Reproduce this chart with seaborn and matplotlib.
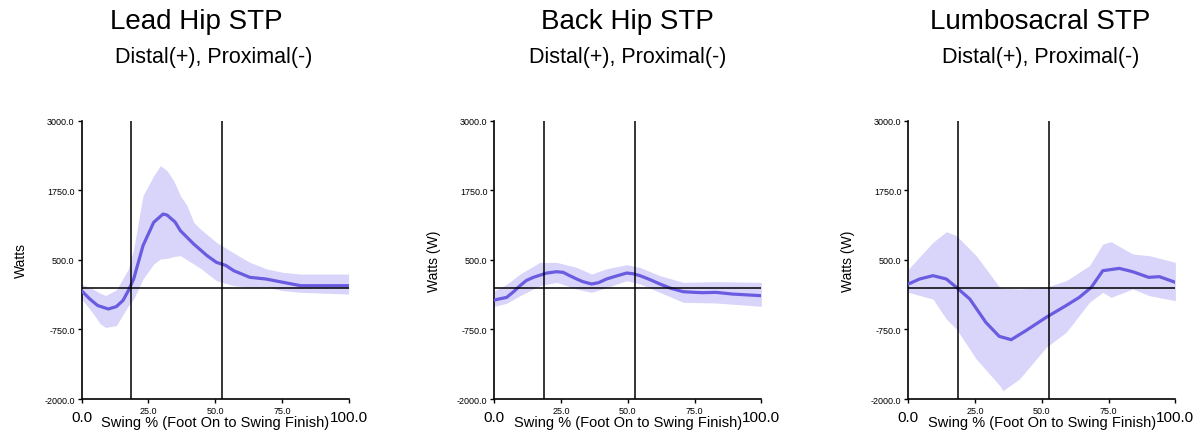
import matplotlib
matplotlib.use("Agg")
import matplotlib.pyplot as plt
import seaborn as sns
import pandas as pd
import numpy as np

# ---------------- data ----------------
titles = ["Lead Hip STP", "Back Hip STP", "Lumbosacral STP"]
subtitle = "Distal(+), Proximal(-)"
ylabels = ["Watts", "Watts (W)", "Watts (W)"]
xlabel = "Swing % (Foot On to Swing Finish)"
yticks = [-2000.0, -750.0, 500.0, 1750.0, 3000.0]
xticks_small = [25.0, 50.0, 75.0]
xticks_end = [0.0, 100.0]
event_lines = [18.5, 52.7]

# Lead hip
lead_mean_x = [0, 3, 6, 10, 13, 15.5, 17.5, 19.5, 23, 27, 30.5, 32, 35, 37, 42, 47, 50.5, 54, 57, 63, 69, 75.5, 82, 90, 100]
lead_mean_y = [-54, -200, -320, -383, -340, -230, -54, 156, 755, 1174, 1323, 1305, 1180, 1024, 784, 575, 455, 400, 305, 186, 156, 96, 36, 36, 36]
lead_band_x = [0, 4, 7, 9, 13, 17.5, 19.5, 23, 27, 29.5, 32, 34.5, 37, 39.5, 42, 44.5, 50.5, 57, 63, 69.5, 75.5, 82, 100]
lead_upper = [66, -20, -100, -140, -40, 335, 695, 1653, 2012, 2192, 2102, 1922, 1653, 1473, 1174, 1054, 814, 623, 455, 335, 275, 245, 245]
lead_lower = [-204, -443, -650, -713, -683, -323, -204, 156, 425, 515, 527, 560, 575, 500, 425, 350, 126, 36, 6, 6, -54, -84, -114]

# Back hip
back_mean_x = [0, 2, 4.6, 7, 9.6, 12, 14.6, 19.6, 23.3, 25.8, 28, 30.8, 33, 36.4, 39, 42, 45, 49.5, 52, 54.5, 58, 62, 66, 70.7, 75, 78, 83, 89, 100]
back_mean_y = [-222, -200, -174, -80, 36, 130, 186, 263, 287, 275, 220, 156, 110, 66, 90, 156, 200, 263, 250, 216, 150, 66, -10, -72, -84, -90, -84, -114, -144]
back_band_x = [0, 4.6, 9.6, 17, 23.3, 30.8, 36.4, 42, 49.5, 54.5, 62, 70.7, 83, 100]
back_upper = [-54, 60, 245, 455, 455, 365, 245, 340, 413, 365, 216, 96, 108, 96]
back_lower = [-335, -280, -144, 36, 96, -24, -84, 0, 126, 66, -84, -263, -275, -335]

# Lumbosacral
lumb_mean_x = [0, 4.2, 9.2, 14.2, 18, 23, 29, 34, 38.5, 44, 51.6, 59, 64, 68.5, 72.8, 79, 84, 90, 94, 100]
lumb_mean_y = [66, 156, 216, 156, 6, -204, -623, -874, -934, -772, -533, -323, -174, 6, 305, 347, 287, 186, 198, 96]
lumb_band_x = [0, 9.2, 14.2, 18, 25.4, 34.2, 35.4, 41.6, 51.6, 59.1, 67.8, 72.8, 75.9, 84, 90.3, 100]
lumb_upper = [335, 814, 1006, 934, 575, 6, -10, -24, 6, 126, 395, 784, 826, 605, 575, 455]
lumb_lower = [-84, -204, -563, -743, -1281, -1760, -1850, -1640, -1071, -802, -263, -84, -174, -24, -144, -233]

panels = [
    (lead_mean_x, lead_mean_y, lead_band_x, lead_upper, lead_lower),
    (back_mean_x, back_mean_y, back_band_x, back_upper, back_lower),
    (lumb_mean_x, lumb_mean_y, lumb_band_x, lumb_upper, lumb_lower),
]

# ---------------- style ----------------
sns.set_theme(style="ticks")
plt.rcParams["font.family"] = ["Liberation Sans", "DejaVu Sans"]
plt.rcParams["text.color"] = "black"
plt.rcParams["axes.labelcolor"] = "black"
plt.rcParams["xtick.color"] = "black"
plt.rcParams["ytick.color"] = "black"

line_color = "#6a5ce0"
band_color = "#d9d5fa"

fig = plt.figure(figsize=(12, 4.39), dpi=100)
lefts = [0.068, 0.412, 0.757]
title_x = [0.164, 0.523, 0.867]
sub_x = [0.178, 0.523, 0.867]

for i, (mx, my, bx, bu, bl) in enumerate(panels):
    ax = fig.add_axes([lefts[i], 0.0888, 0.2225, 0.634])
    ax.fill_between(bx, bl, bu, color=band_color, linewidth=0, zorder=1)
    df = pd.DataFrame({"x": mx, "y": my})
    sns.lineplot(data=df, x="x", y="y", ax=ax, color=line_color, linewidth=2.3, zorder=3)
    for ev in event_lines:
        ax.axvline(ev, color="black", linewidth=1.1, zorder=4)
    ax.axhline(0, color="black", linewidth=1.1, zorder=4)
    ax.set_xlim(0, 100)
    ax.set_ylim(-2000, 3000)
    ax.set_yticks(yticks)
    ax.set_yticklabels([f"{v:.1f}" for v in yticks], fontsize=6.5)
    ax.set_xticks(xticks_end[:1] + xticks_small + xticks_end[1:])
    ax.set_xticklabels([""] + [f"{v:.1f}" for v in xticks_small] + [""], fontsize=6.5)
    ax.tick_params(axis="both", length=3, width=1, color="black", pad=2)
    for side in ["top", "right"]:
        ax.spines[side].set_visible(False)
    for side in ["left", "bottom"]:
        ax.spines[side].set_linewidth(1.2)
        ax.spines[side].set_color("black")
    trans = ax.get_xaxis_transform()
    for v in xticks_end:
        ax.text(v, -0.065, f"{v:.1f}", transform=trans, ha="center", va="center",
                fontsize=11, color="black")
    ax.set_xlabel(xlabel, fontsize=10.5, labelpad=0)
    ax.xaxis.set_label_coords(0.5, -0.083)
    ax.xaxis.label.set_va("center")
    ax.set_ylabel(ylabels[i], fontsize=10)
    ax.yaxis.set_label_coords(-0.2, 0.5)
    fig.text(title_x[i], 0.95, titles[i], fontsize=20, ha="center", va="center", color="black")
    fig.text(sub_x[i], 0.87, subtitle, fontsize=15.5, ha="center", va="center", color="black")

fig.savefig("out.png", dpi=100)
